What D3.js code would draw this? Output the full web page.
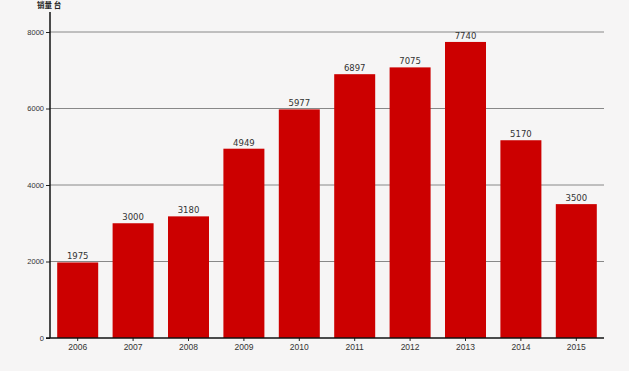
<!DOCTYPE html>
<html>
<head>
<meta charset="utf-8">
<script src="https://cdn.jsdelivr.net/npm/d3@7"></script>
<style>
  body { margin: 0; background: #f6f5f5; }
  svg { display: block; font-family: "DejaVu Sans", sans-serif; }
</style>
</head>
<body>
<script>
// data
const years = ["2006","2007","2008","2009","2010","2011","2012","2013","2014","2015"];
const sales = [1975, 3000, 3180, 4949, 5977, 6897, 7075, 7740, 5170, 3500];
const yTicks = [0, 2000, 4000, 6000, 8000];

const width = 629, height = 371;
const mLeft = 50, mRight = 604, mTop = 32, mBottom = 338;

const svg = d3.select("body").append("svg")
  .attr("width", width)
  .attr("height", height);

svg.append("rect").attr("width", width).attr("height", height).attr("fill", "#f6f5f5");

const x = d3.scaleBand()
  .domain(years)
  .range([mLeft, mRight])
  .paddingInner(0.26)
  .paddingOuter(0.13);

const y = d3.scaleLinear()
  .domain([0, 8000])
  .range([mBottom, mTop]);

// gridlines
svg.append("g")
  .selectAll("line")
  .data(yTicks.filter(d => d > 0))
  .enter()
  .append("line")
  .attr("x1", mLeft).attr("x2", mRight)
  .attr("y1", d => y(d)).attr("y2", d => y(d))
  .attr("stroke", "#888")
  .attr("stroke-width", 1);

// bars
svg.append("g")
  .selectAll("rect")
  .data(sales)
  .enter()
  .append("rect")
  .attr("x", (d, i) => x(years[i]))
  .attr("y", d => y(d))
  .attr("width", x.bandwidth())
  .attr("height", d => mBottom - y(d))
  .attr("fill", "#cc0000");

// value labels
svg.append("g")
  .selectAll("text")
  .data(sales)
  .enter()
  .append("text")
  .attr("x", (d, i) => x(years[i]) + x.bandwidth() / 2)
  .attr("y", d => y(d) - 3)
  .attr("text-anchor", "middle")
  .attr("font-size", 8.5)
  .attr("fill", "#333")
  .text(d => d);

// y axis
const yAxis = d3.axisLeft(y).tickValues(yTicks).tickSize(4).tickPadding(2).tickFormat(d3.format("d"));
const gy = svg.append("g")
  .attr("transform", `translate(${mLeft},0)`)
  .call(yAxis);
gy.select(".domain").remove();
gy.selectAll("text").attr("font-size", 7.5).attr("fill", "#333");
gy.selectAll("line").attr("stroke", "#222");
svg.append("line")
  .attr("x1", mLeft).attr("x2", mLeft)
  .attr("y1", 12).attr("y2", mBottom)
  .attr("stroke", "#111").attr("stroke-width", 1.5);

// x axis
const xAxis = d3.axisBottom(x).tickSize(3).tickPadding(3);
const gx = svg.append("g")
  .attr("transform", `translate(0,${mBottom})`)
  .call(xAxis);
gx.select(".domain").remove();
gx.selectAll("text").attr("font-size", 8.5).attr("fill", "#333");
gx.selectAll("line").attr("stroke", "#222");
svg.append("line")
  .attr("x1", mLeft - 4).attr("x2", mRight)
  .attr("y1", mBottom).attr("y2", mBottom)
  .attr("stroke", "#111").attr("stroke-width", 1.5);

// unit label
svg.append("text")
  .attr("x", 37).attr("y", 8)
  .attr("font-size", 7.5)
  .attr("font-weight", "bold")
  .attr("font-family", "Noto Sans CJK SC")
  .attr("fill", "#222")
  .text("销量 台");
</script>
</body>
</html>
